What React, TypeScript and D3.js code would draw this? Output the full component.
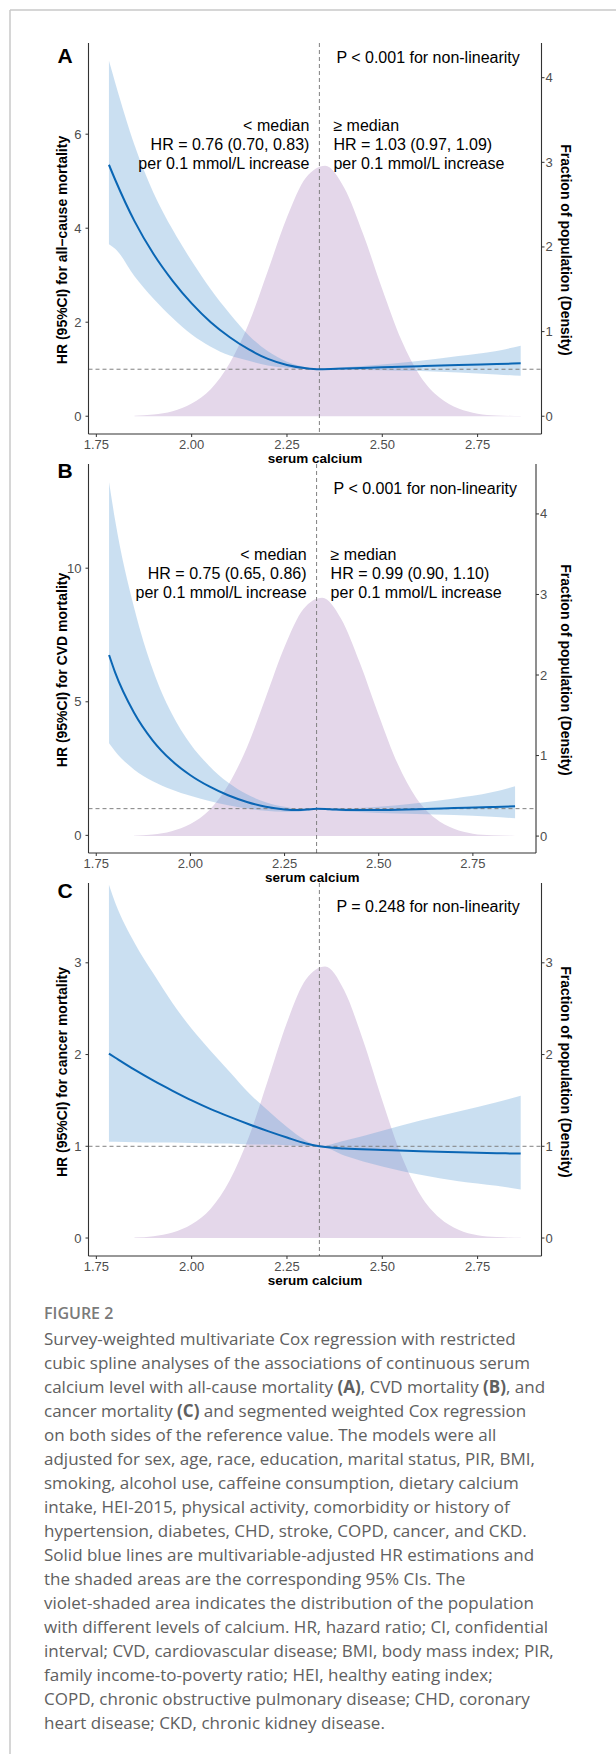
import React from 'react';
import * as d3 from 'd3';

const W = 616;
const H = 1754;

// shared x axis (serum calcium, mmol/L)
const xTicks = [1.75, 2.0, 2.25, 2.5, 2.75];
const xDomain = [1.7294, 2.9176];
const medianCa = 2.335;

// population distribution (violet area), density units
const densX = [1.85, 1.9, 1.95, 2.0, 2.05, 2.1, 2.15, 2.2, 2.25, 2.3, 2.35, 2.4, 2.45, 2.5, 2.55, 2.6, 2.65, 2.7, 2.75, 2.8, 2.863];
const densY = [0.005, 0.02, 0.06, 0.15, 0.32, 0.63, 1.1, 1.72, 2.35, 2.82, 2.96, 2.7, 2.15, 1.5, 0.9, 0.47, 0.22, 0.09, 0.03, 0.01, 0.002];

// A: all-cause mortality
const aX = [1.783, 1.8, 1.85, 1.9, 1.95, 2.0, 2.05, 2.1, 2.15, 2.2, 2.25, 2.3, 2.335, 2.4, 2.5, 2.6, 2.7, 2.8, 2.863];
const aHR = [5.35, 5.02, 4.15, 3.45, 2.88, 2.4, 2.0, 1.68, 1.42, 1.22, 1.09, 1.02, 1.0, 1.015, 1.04, 1.065, 1.09, 1.11, 1.125];
const aUp = [7.56, 7.08, 5.77, 4.75, 3.97, 3.3, 2.7, 2.18, 1.72, 1.38, 1.16, 1.04, 1.0, 1.04, 1.1, 1.18, 1.28, 1.39, 1.5];
const aLo = [3.66, 3.56, 2.98, 2.5, 2.09, 1.74, 1.48, 1.29, 1.18, 1.08, 1.03, 1.0, 1.0, 0.99, 0.98, 0.96, 0.93, 0.89, 0.86];

// B: CVD mortality
const bX = [1.784, 1.8, 1.85, 1.9, 1.95, 2.0, 2.05, 2.1, 2.15, 2.2, 2.25, 2.28, 2.31, 2.335, 2.37, 2.42, 2.5, 2.6, 2.7, 2.8, 2.862];
const bHR = [6.75, 6.1, 4.6, 3.55, 2.8, 2.25, 1.83, 1.5, 1.25, 1.07, 0.97, 0.945, 0.965, 1.0, 0.98, 0.95, 0.95, 0.98, 1.02, 1.06, 1.09];
const bUp = [13.22, 11.8, 8.55, 6.21, 4.57, 3.42, 2.6, 1.98, 1.54, 1.24, 1.07, 1.01, 1.005, 1.02, 1.02, 1.02, 1.07, 1.2, 1.38, 1.61, 1.84];
const bLo = [3.45, 3.15, 2.47, 2.03, 1.72, 1.48, 1.29, 1.13, 1.01, 0.92, 0.88, 0.88, 0.93, 0.98, 0.94, 0.89, 0.84, 0.8, 0.76, 0.7, 0.64];

// C: cancer mortality
const cX = [1.783, 1.8, 1.85, 1.9, 1.95, 2.0, 2.05, 2.1, 2.15, 2.2, 2.25, 2.3, 2.335, 2.4, 2.5, 2.6, 2.7, 2.8, 2.863];
const cHR = [2.01, 1.965, 1.835, 1.715, 1.605, 1.5, 1.405, 1.32, 1.24, 1.165, 1.095, 1.03, 1.0, 0.975, 0.96, 0.945, 0.935, 0.925, 0.92];
const cUp = [3.85, 3.65, 3.22, 2.88, 2.56, 2.28, 2.04, 1.81, 1.58, 1.39, 1.21, 1.06, 1.0, 1.06, 1.17, 1.28, 1.38, 1.48, 1.55];
const cLo = [1.05, 1.05, 1.045, 1.04, 1.04, 1.035, 1.03, 1.03, 1.02, 1.02, 1.01, 1.0, 1.0, 0.9, 0.78, 0.69, 0.62, 0.57, 0.53];

const captionLines = [
  'Survey-weighted multivariate Cox regression with restricted',
  'cubic spline analyses of the associations of continuous serum',
  'calcium level with all-cause mortality **(A)**, CVD mortality **(B)**, and',
  'cancer mortality **(C)** and segmented weighted Cox regression',
  'on both sides of the reference value. The models were all',
  'adjusted for sex, age, race, education, marital status, PIR, BMI,',
  'smoking, alcohol use, caffeine consumption, dietary calcium',
  'intake, HEI-2015, physical activity, comorbidity or history of',
  'hypertension, diabetes, CHD, stroke, COPD, cancer, and CKD.',
  'Solid blue lines are multivariable-adjusted HR estimations and',
  'the shaded areas are the corresponding 95% CIs. The',
  'violet-shaded area indicates the distribution of the population',
  'with different levels of calcium. HR, hazard ratio; CI, confidential',
  'interval; CVD, cardiovascular disease; BMI, body mass index; PIR,',
  'family income-to-poverty ratio; HEI, healthy eating index;',
  'COPD, chronic obstructive pulmonary disease; CHD, coronary',
  'heart disease; CKD, chronic kidney disease.',
];

const panels = [
  {
    letter: 'A', xs: aX, hr: aHR, lo: aLo, up: aUp,
    yL: [-0.378, 7.94], yR: [-0.21, 4.41], ticksL: [0, 2, 4, 6], ticksR: [0, 1, 2, 3, 4],
    title: 'HR (95%CI) for all\u2212cause mortality',
    pText: 'P < 0.001  for non-linearity',
    ann: [['< median', 'HR = 0.76 (0.70, 0.83)', 'per 0.1 mmol/L increase'], ['\u2265 median', 'HR = 1.03 (0.97, 1.09)', 'per 0.1 mmol/L increase']],
    top: 43, bottom: 434, right: 541.5, letterY: 55, pY: 57, annY: 125, titleY: 250,
  },
  {
    letter: 'B', xs: bX, hr: bHR, lo: bLo, up: bUp,
    yL: [-0.66, 13.9], yR: [-0.21, 4.62], ticksL: [0, 5, 10], ticksR: [0, 1, 2, 3, 4],
    title: 'HR (95%CI) for CVD mortality',
    pText: 'P < 0.001 for non-linearity',
    ann: [['< median', 'HR = 0.75 (0.65, 0.86)', 'per 0.1 mmol/L increase'], ['\u2265 median', 'HR = 0.99 (0.90, 1.10)', 'per 0.1 mmol/L increase']],
    top: 464, bottom: 853, right: 536, letterY: 470, pY: 488, annY: 554, titleY: 670,
  },
  {
    letter: 'C', xs: cX, hr: cHR, lo: cLo, up: cUp,
    yL: [-0.196, 3.87], yR: [-0.196, 3.87], ticksL: [0, 1, 2, 3], ticksR: [0, 1, 2, 3],
    title: 'HR (95%CI) for cancer mortality',
    pText: 'P = 0.248 for non-linearity',
    ann: null,
    top: 883, bottom: 1256, right: 541.5, letterY: 890, pY: 906, annY: 0, titleY: 1072,
  },
];

const FONT = 'Liberation Sans, Arial, sans-serif';
const LEFT = 88.5;

function Panel({ p }: { p: any }) {
  const x = d3.scaleLinear().domain(xDomain).range([LEFT, p.right]);
  const yL = d3.scaleLinear().domain(p.yL).range([p.bottom, p.top]);
  const yR = d3.scaleLinear().domain(p.yR).range([p.bottom, p.top]);

  const densArea = d3.area<number>()
    .x((_, i) => x(densX[i]))
    .y0(yR(0))
    .y1((d) => yR(d))
    .curve(d3.curveMonotoneX);
  const band = d3.area<number>()
    .x((_, i) => x(p.xs[i]))
    .y0((_, i) => yL(p.lo[i]))
    .y1((_, i) => yL(p.up[i]))
    .curve(d3.curveMonotoneX);
  const line = d3.line<number>()
    .x((_, i) => x(p.xs[i]))
    .y((d) => yL(d))
    .curve(d3.curveMonotoneX);

  const xm = x(medianCa);
  const axisCol = '#333';
  const tickCol = '#4d4d4d';

  return (
    <g fontFamily={FONT}>
      <path d={densArea(densY) || ''} fill="#e4d7ea" />
      <path d={band(p.hr) || ''} fill="#5b9bd5" fillOpacity={0.32} />
      <line x1={LEFT} x2={p.right} y1={yL(1)} y2={yL(1)} stroke="#808080" strokeWidth={1} strokeDasharray="4,3" />
      <line x1={xm} x2={xm} y1={p.top} y2={p.bottom} stroke="#808080" strokeWidth={1} strokeDasharray="4,3" />
      <path d={line(p.hr) || ''} fill="none" stroke="#0a66b4" strokeWidth={2} />

      {/* axes */}
      <line x1={LEFT} x2={LEFT} y1={p.top} y2={p.bottom} stroke={axisCol} strokeWidth={1.1} />
      <line x1={p.right} x2={p.right} y1={p.top} y2={p.bottom} stroke={axisCol} strokeWidth={1.1} />
      <line x1={LEFT} x2={p.right} y1={p.bottom} y2={p.bottom} stroke={axisCol} strokeWidth={1.1} />

      {p.ticksL.map((t: number) => (
        <g key={'l' + t}>
          <line x1={LEFT - 3} x2={LEFT} y1={yL(t)} y2={yL(t)} stroke={axisCol} />
          <text x={LEFT - 7} y={yL(t)} textAnchor="end" dominantBaseline="central" fontSize={13} fill={tickCol}>{t}</text>
        </g>
      ))}
      {p.ticksR.map((t: number) => (
        <g key={'r' + t}>
          <line x1={p.right} x2={p.right + 3} y1={yR(t)} y2={yR(t)} stroke={axisCol} />
          <text x={p.right + 4} y={yR(t)} dominantBaseline="central" fontSize={13} fill={tickCol}>{t}</text>
        </g>
      ))}
      {xTicks.map((t) => (
        <g key={'x' + t}>
          <line x1={x(t)} x2={x(t)} y1={p.bottom} y2={p.bottom + 3} stroke={axisCol} />
          <text x={x(t)} y={p.bottom + 10} textAnchor="middle" dominantBaseline="central" fontSize={13} fill={tickCol}>{t.toFixed(2)}</text>
        </g>
      ))}
      <text x={(LEFT + p.right) / 2} y={p.bottom + 24} textAnchor="middle" dominantBaseline="central" fontSize={13.5} fontWeight="bold" fill="#000">serum calcium</text>

      <text x={62} y={p.titleY} textAnchor="middle" dominantBaseline="central" fontSize={14} fontWeight="bold" fill="#000" transform={`rotate(-90 62 ${p.titleY})`}>{p.title}</text>
      <text x={566} y={p.titleY} textAnchor="middle" dominantBaseline="central" fontSize={14} fontWeight="bold" fill="#000" transform={`rotate(90 566 ${p.titleY})`}>Fraction of population (Density)</text>

      <text x={65} y={p.letterY} textAnchor="middle" dominantBaseline="central" fontSize={21} fontWeight="bold" fill="#000">{p.letter}</text>
      <text x={xm + 17} y={p.pY} dominantBaseline="central" fontSize={16} fill="#000">{p.pText}</text>
      {p.ann && p.ann[0].map((s: string, i: number) => (
        <text key={'al' + i} x={xm - 10} y={p.annY + i * 19} textAnchor="end" dominantBaseline="central" fontSize={16} fill="#000">{s}</text>
      ))}
      {p.ann && p.ann[1].map((s: string, i: number) => (
        <text key={'ar' + i} x={xm + 14} y={p.annY + i * 19} dominantBaseline="central" fontSize={16} fill="#000">{s}</text>
      ))}
    </g>
  );
}

export default function App() {
  return (
    <svg width={W} height={H} style={{ position: 'absolute', left: 0, top: 0, background: '#fff' }}>
      <rect x={0} y={0} width={W} height={H} fill="#fff" />
      <line x1={10} x2={W} y1={10} y2={10} stroke="#c8c8c8" strokeWidth={1.5} />
      <line x1={10} x2={10} y1={10} y2={H} stroke="#c8c8c8" strokeWidth={1.5} />
      {panels.map((p) => <Panel key={p.letter} p={p} />)}

      <text x={44} y={1313} dominantBaseline="central" fontFamily="Open Sans, sans-serif" fontSize={16} fontWeight={600} fill="#7a7a7a">FIGURE 2</text>
      {captionLines.map((ln, i) => (
        <text key={i} x={44} y={1338 + i * 24} dominantBaseline="central" fontFamily="Open Sans, sans-serif" fontSize={17} fill="#606060">
          {ln.split('**').map((seg, j) => (
            <tspan key={j} fontWeight={j % 2 === 1 ? 'bold' : 'normal'}>{seg}</tspan>
          ))}
        </text>
      ))}
    </svg>
  );
}
